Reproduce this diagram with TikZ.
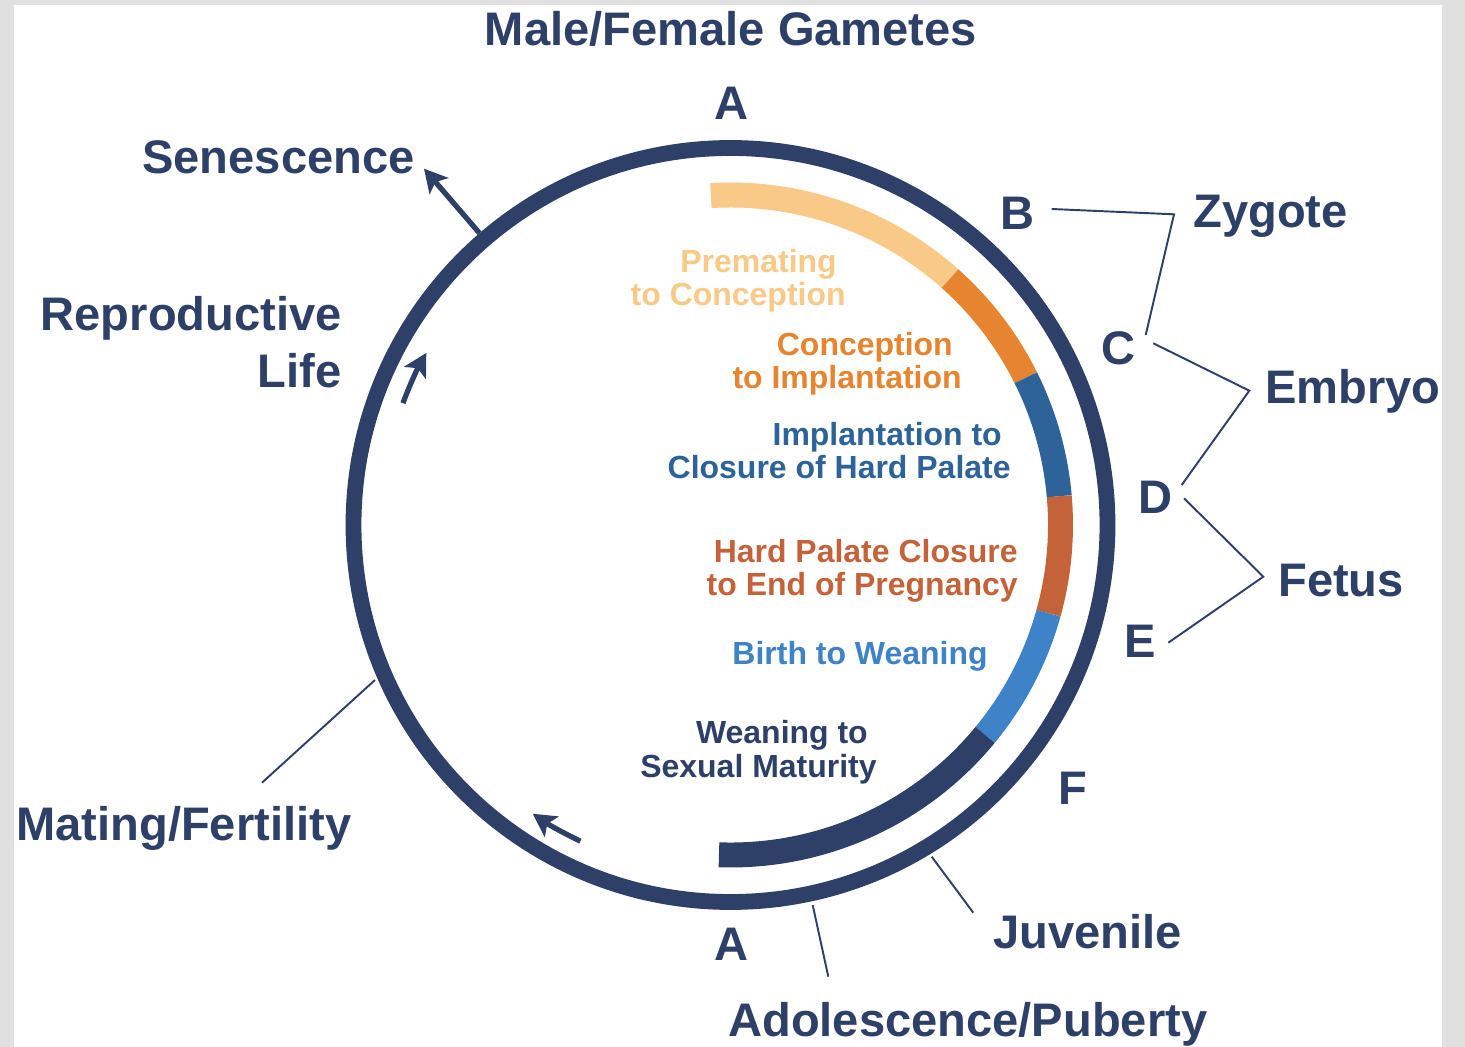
\documentclass[tikz,border=0pt]{standalone}
\usepackage{fontspec}
\setmainfont{Liberation Sans}
\usetikzlibrary{arrows.meta}

\definecolor{navy}{HTML}{2E4068}
\definecolor{lorange}{HTML}{F8C987}
\definecolor{orange}{HTML}{E6842F}
\definecolor{dblue}{HTML}{2D6398}
\definecolor{rust}{HTML}{C4633A}
\definecolor{lblue}{HTML}{3E82C7}
\definecolor{framegray}{HTML}{E0E0E0}

% small kern so the first line sits a space left of the second one
\newcommand{\tsp}{\kern0.278em}

\begin{document}
\begin{tikzpicture}[x=0.02cm, y=-0.02cm,
    big/.style={font=\fontsize{26.8}{33}\selectfont\bfseries, text=navy, inner sep=0pt},
    small/.style={font=\fontsize{18.2}{18.8}\selectfont\bfseries, inner sep=0pt, align=right},
    ring/.style={draw=navy, line width=9pt},
    band/.style={line width=14.2pt},
    thinline/.style={draw=navy, line width=1.1pt},
    cycarrow/.style={draw=navy, line width=3pt, -{Stealth[length=13pt, width=14pt, inset=3pt]}}]

    % frame
    \fill[framegray] (0,0) rectangle (1465,1047);
    \fill[white] (14,5) rectangle (1442,1047);
    \useasboundingbox (0,0) rectangle (1465,1047);

    % outer ring and the coloured inner bands
    \begin{scope}[shift={(730.5,525)}]
    \draw[ring] (0,0) circle[radius=377];
    \foreach \a/\b/\c in {-93.4/-48.3/lorange, -48.3/-26.5/orange, -26.5/-5/dblue,
                          -5/15.5/rust, 15.5/39.5/lblue, 39.5/92/navy}{%
        \draw[band, draw=\c] (\a:330) arc[start angle=\a, end angle=\b, radius=330];
    }
    % arrows of the cycle
    \draw[cycarrow] (-130.7:385) -- (-130.7:470);
    \draw[cycarrow] (-159.6:349.5) arc[start angle=-159.6, end angle=-150.5, radius=349.5];
    \draw[cycarrow] (115.4:350) arc[start angle=115.4, end angle=124.4, radius=350];
    \end{scope}

    % labels round the ring
    % (base of a two-line node is the baseline of its last line)
    \node[big, anchor=base] (gam) at (731,46) {Male/Female Gametes};
    \node[big, anchor=base] (Atop) at (731,120) {A};
    \node[big, anchor=base] (Abot) at (731,960) {A};
    \node[big, anchor=base] (B) at (1017,230) {B};
    \node[big, anchor=base] (C) at (1118,365) {C};
    \node[big, anchor=base] (D) at (1155,514) {D};
    \node[big, anchor=base] (E) at (1140,658) {E};
    \node[big, anchor=base] (F) at (1073,804) {F};
    \node[big, anchor=base east] (sen) at (415,174) {Senescence};
    \node[big, anchor=base east, align=right] (rep) at (342,388) {Reproductive\\Life};
    \node[big, anchor=base west] (mat) at (16,840) {Mating/Fertility};
    \node[big, anchor=base west] (zyg) at (1193,228) {Zygote};
    \node[big, anchor=base west] (emb) at (1265,404) {Embryo};
    \node[big, anchor=base west] (fet) at (1278,597) {Fetus};
    \node[big, anchor=base west] (juv) at (993,948) {Juvenile};
    \node[big, anchor=base west] (ado) at (728,1036) {Adolescence/Puberty};

    % labels of the inner bands
    \node[small, text=lorange, anchor=base east] (pre) at (846,306) {Premating\tsp\\to Conception};
    \node[small, text=orange, anchor=base east] (con) at (962,389) {Conception\tsp\\to Implantation};
    \node[small, text=dblue, anchor=base east] (imp) at (1011,479) {Implantation to\tsp\\Closure of Hard Palate};
    \node[small, text=rust, anchor=base east] (hpc) at (1018,596) {Hard Palate Closure\\to End of Pregnancy};
    \node[small, text=lblue, anchor=base east] (btw) at (988,664) {Birth to Weaning};
    \node[small, text=navy, anchor=base east] (wtm) at (877,777) {Weaning to\tsp\\Sexual Maturity};

    % brackets B-C, C-D, D-E
    \coordinate (b1) at (1051.7,209);   \coordinate (b2) at (1174,214.3);   \coordinate (b3) at (1145.7,335);
    \coordinate (c1) at (1153.3,343.3); \coordinate (c2) at (1249.3,390.7); \coordinate (c3) at (1181.7,485);
    \coordinate (d1) at (1184,498.3);   \coordinate (d2) at (1263.3,576.7); \coordinate (d3) at (1168.3,642.7);
    \draw[thinline] (b1) -- (b2) -- (b3);
    \draw[thinline] (c1) -- (c2) -- (c3);
    \draw[thinline] (d1) -- (d2) -- (d3);

    % pointers from the ring
    \coordinate (rm) at (375,680);     \coordinate (tm) at (262,782.7);
    \coordinate (ra) at (812.7,905);   \coordinate (ta) at (828.3,976.7);
    \coordinate (rj) at (931.7,856.7); \coordinate (tj) at (973.3,912.7);
    \draw[thinline] (rm) -- (tm);
    \draw[thinline] (ra) -- (ta);
    \draw[thinline] (rj) -- (tj);

\end{tikzpicture}
\end{document}
